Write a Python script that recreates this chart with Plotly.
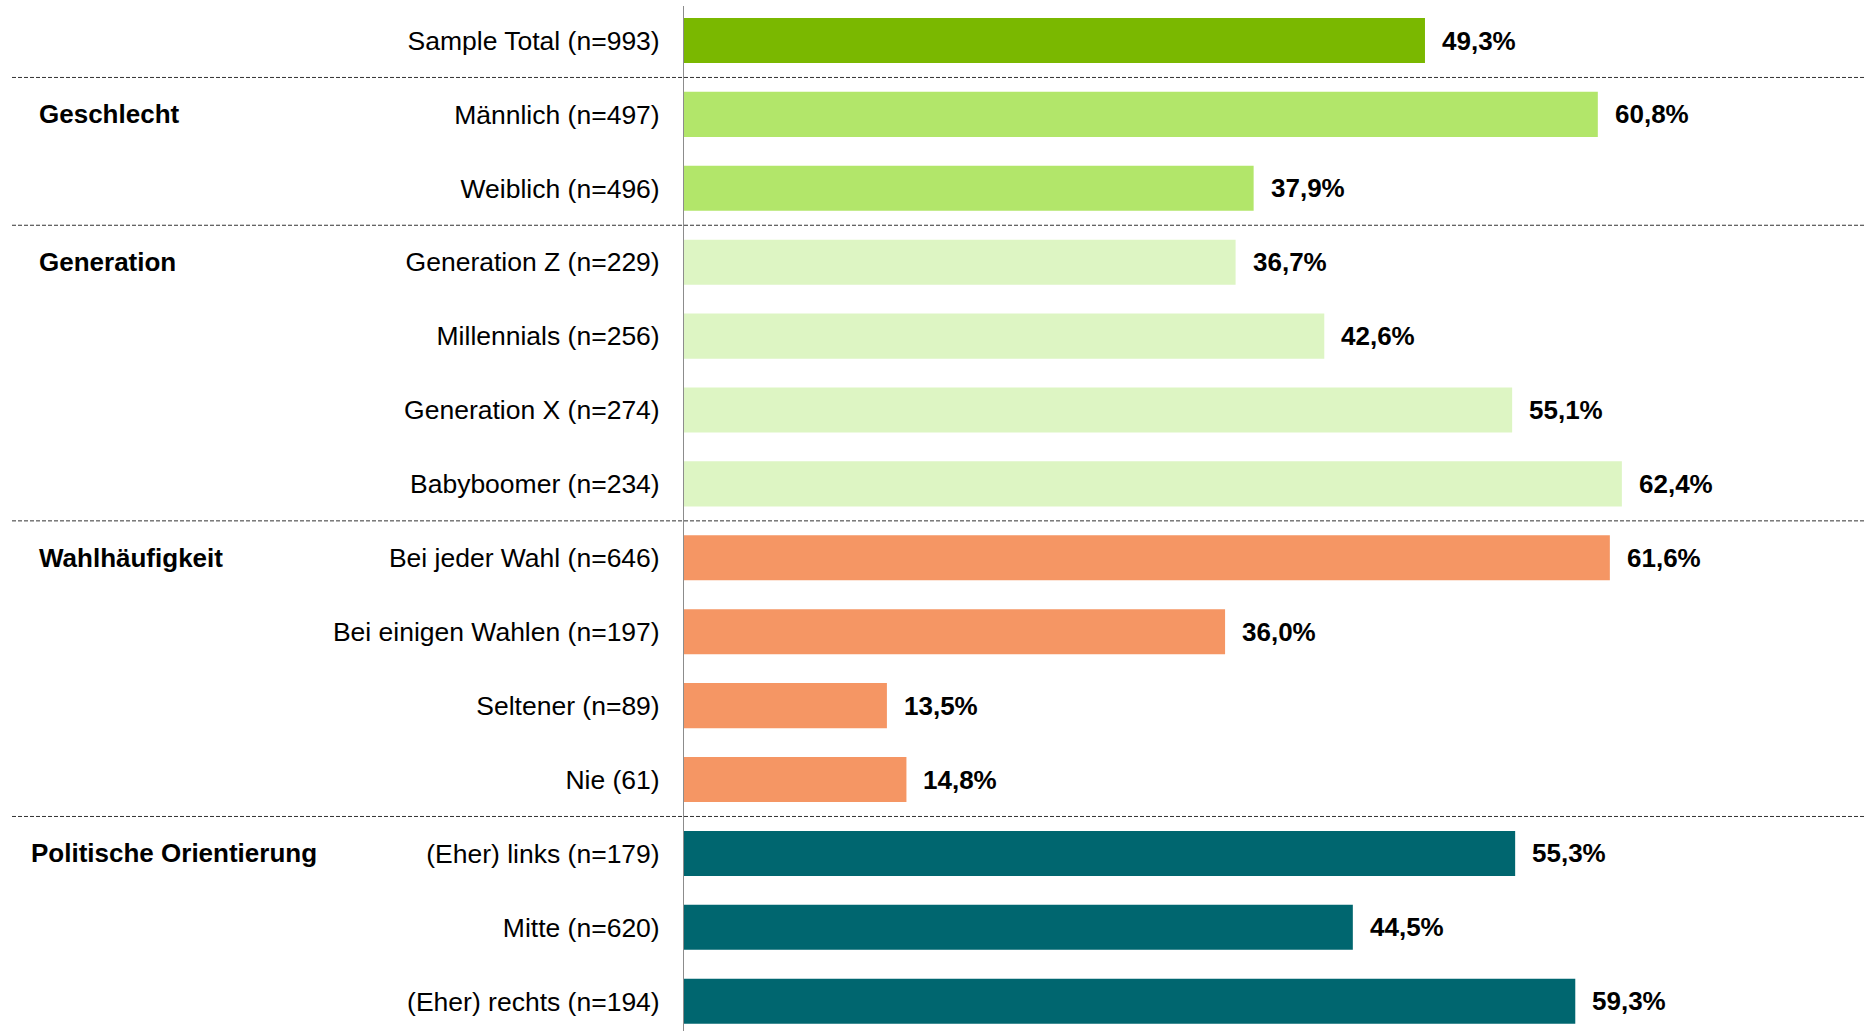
import plotly.graph_objects as go

# data
categories = [
    "Sample Total (n=993)",
    "Männlich (n=497)", "Weiblich (n=496)",
    "Generation Z (n=229)", "Millennials (n=256)", "Generation X (n=274)", "Babyboomer (n=234)",
    "Bei jeder Wahl (n=646)", "Bei einigen Wahlen (n=197)", "Seltener (n=89)", "Nie (61)",
    "(Eher) links (n=179)", "Mitte (n=620)", "(Eher) rechts (n=194)",
]
values = [49.3, 60.8, 37.9, 36.7, 42.6, 55.1, 62.4, 61.6, 36.0, 13.5, 14.8, 55.3, 44.5, 59.3]

groups = ["", "Geschlecht", "Generation", "Wahlhäufigkeit", "Politische Orientierung"]
group_sizes = [1, 2, 4, 4, 3]
group_colors = ["#7AB800", "#B2E66A", "#DDF5C3", "#F59664", "#00666F"]

W, H = 1866, 1031
LEFT = 684
FONT = "Liberation Sans, Arial, sans-serif"

colors = []
for c, n in zip(group_colors, group_sizes):
    colors += [c] * n
ypos = list(range(len(categories)))

fig = go.Figure(go.Bar(
    x=values, y=ypos, orientation="h",
    marker=dict(color=colors, line=dict(width=0)),
    hoverinfo="skip",
))

# value labels
for v, y in zip(values, ypos):
    fig.add_annotation(
        x=v, y=y, text="<b>" + f"{v:.1f}".replace(".", ",") + "%</b>",
        showarrow=False, xanchor="left", xshift=15,
        font=dict(family=FONT, size=26, color="black"),
    )

# group titles and dashed separators
start = 0
for i, (g, n) in enumerate(zip(groups, group_sizes)):
    if i > 0:
        fig.add_shape(
            type="line", xref="paper", yref="y",
            x0=(12 - LEFT) / (W - LEFT), x1=1,
            y0=start - 0.5, y1=start - 0.5,
            line=dict(color="#333333", width=1, dash="4px,2px"),
            layer="above",
        )
    if g:
        gx = 29 if g.startswith("Politische") else 37
        fig.add_annotation(
            xref="paper", yref="y", x=(gx - LEFT) / (W - LEFT), y=start,
            text="<b>" + g + "</b>", showarrow=False, xanchor="left",
            font=dict(family=FONT, size=26, color="black"),
        )
    start += n

fig.update_layout(
    width=W, height=H,
    margin=dict(l=LEFT, r=0, t=6, b=0),
    plot_bgcolor="white", paper_bgcolor="white",
    showlegend=False, bargap=0.39,
    font=dict(family=FONT, size=26, color="black"),
    xaxis=dict(range=[0, (W - LEFT) / 15.03], visible=False, fixedrange=True),
    yaxis=dict(
        range=[13.403, -0.467], tickvals=ypos, ticktext=categories,
        showline=True, linecolor="#8C8C8C", linewidth=1,
        showgrid=False, zeroline=False, ticks="", ticklabelstandoff=18,
        tickfont=dict(family=FONT, size=26.5, color="black"),
        fixedrange=True,
    ),
)

# drop the default body margin so the figure fills the window exactly
fig.write_html(
    "out.html",
    config={"displayModeBar": False},
    post_script="document.body.style.margin='0';document.body.style.overflow='hidden';",
)
